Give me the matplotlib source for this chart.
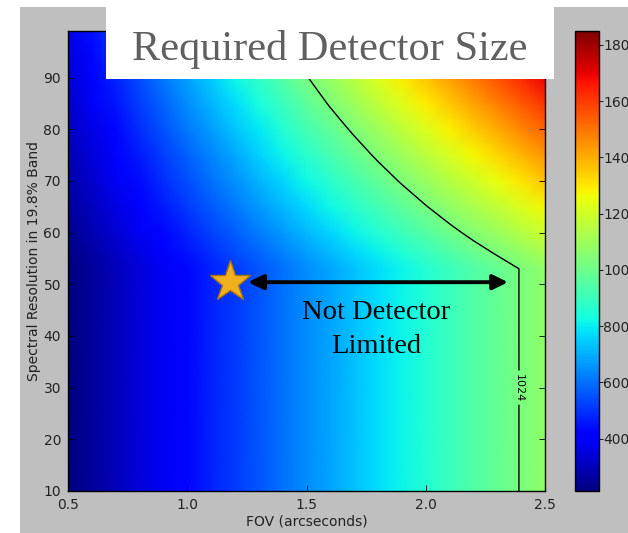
import numpy as np
import matplotlib
matplotlib.use("Agg")
import matplotlib.pyplot as plt
from matplotlib.patches import Rectangle

# ---- data ----
# FOV (arcseconds) columns
fov = [0.5, 0.6, 0.7, 0.8, 0.9, 1.0, 1.1, 1.2, 1.3, 1.4, 1.5,
       1.6, 1.7, 1.8, 1.9, 2.0, 2.1, 2.2, 2.3, 2.4, 2.5]
# detector size (pixels) at low spectral resolution for each FOV column
size_low_res = [214, 257, 300, 343, 386, 428, 471, 514, 557, 600, 643,
                686, 728, 771, 814, 857, 900, 943, 985, 1028, 1071]
# spectral resolution rows and the growth factor of detector size
resolution = [10, 53, 56, 60, 65, 70, 75, 80, 85, 90, 95, 99]
res_factor = [1.0, 1.0, 1.047, 1.111, 1.190, 1.269, 1.348, 1.427, 1.506,
              1.585, 1.664, 1.727]

contour_level = [1024]
cbar_ticks = [400, 600, 800, 1000, 1200, 1400, 1600, 1800]
x_ticks = [0.5, 1.0, 1.5, 2.0, 2.5]
y_ticks = [10, 20, 30, 40, 50, 60, 70, 80, 90]

star_pos = (1.18, 50.4)
arrow_start = (1.255, 50.4)
arrow_end = (2.345, 50.4)

W, H = 628, 533
fig = plt.figure(figsize=(W / 100, H / 100), dpi=100, facecolor="white")

# gray figure background (white strips at left/top)
fig.add_artist(Rectangle((20 / W, 0), 1, (H - 7) / H, transform=fig.transFigure,
                         facecolor="#bfbfbf", edgecolor="none", zorder=-10))

ax = fig.add_axes([68 / W, (H - 491) / H, 477 / W, 460 / H])
X, Y = np.meshgrid(fov, resolution)
Z = np.outer(res_factor, size_low_res)
mesh = ax.pcolormesh(X, Y, Z, shading="gouraud", cmap="jet")
cs = ax.contour(X, Y, Z, levels=contour_level, colors="k", linewidths=1)
ax.clabel(cs, fmt="%d", fontsize=8, manual=[(2.39, 30)], inline=True, inline_spacing=3)

ax.set_xlim(0.5, 2.5)
ax.set_ylim(10, 99)
ax.set_xticks(x_ticks)
ax.set_xticklabels(["%.1f" % v for v in x_ticks])
ax.set_yticks(y_ticks)
ax.tick_params(direction="in", top=True, right=True, length=4, width=0.6,
               labelsize=10, labelcolor="#222222", pad=5)
for s in ax.spines.values():
    s.set_linewidth(1)
ax.set_xlabel("FOV (arcseconds)", fontsize=10, color="#222222")
ax.set_ylabel("Spectral Resolution in 19.8% Band", fontsize=10, color="#222222")
ax.yaxis.set_label_coords(-0.057, 0.5)
ax.xaxis.set_label_coords(0.5, -0.051)

# annotations
ax.plot([star_pos[0]], [star_pos[1]], marker="*", markersize=31,
        markerfacecolor="#F2B01E", markeredgecolor="#A8740E", markeredgewidth=1, zorder=5)
ax.annotate("", xy=arrow_end, xytext=arrow_start,
            arrowprops=dict(arrowstyle="<|-|>,head_length=0.45,head_width=0.22",
                            lw=2.8, color="black", mutation_scale=20,
                            shrinkA=0, shrinkB=0), zorder=5)
ax.text(1.791, 43.25, "Not Detector", ha="center", va="baseline",
        fontsize=20.5, family="Liberation Serif", color="black", zorder=6)
ax.text(1.791, 36.67, "Limited", ha="center", va="baseline",
        fontsize=20.5, family="Liberation Serif", color="black", zorder=6)

# colorbar
cax = fig.add_axes([575 / W, (H - 491) / H, 24 / W, 460 / H])
cb = fig.colorbar(mesh, cax=cax)
cb.set_ticks(cbar_ticks)
cb.outline.set_linewidth(1)
cax.tick_params(direction="out", length=3, width=0.6, labelsize=10,
                labelcolor="#222222", pad=0)

# title box
fig.add_artist(Rectangle((106 / W, (H - 79) / H), (554 - 106) / W, 79 / H,
                         transform=fig.transFigure, facecolor="white",
                         edgecolor="none", zorder=10))
fig.text(329.5 / W, (H - 60) / H, "Required Detector Size", ha="center", va="baseline",
         fontsize=30.5, family="Liberation Serif", color="#606060", zorder=11)

fig.savefig("out.png", dpi=100, facecolor=fig.get_facecolor())
